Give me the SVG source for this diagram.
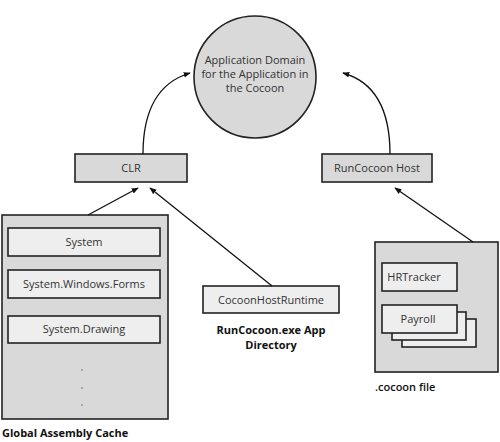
<svg xmlns="http://www.w3.org/2000/svg" width="500" height="442" viewBox="0 0 500 442">
<defs>
<marker id="ah" viewBox="0 0 10 10" refX="9" refY="5" markerWidth="7" markerHeight="7" orient="auto" markerUnits="userSpaceOnUse">
<path d="M0,1 L10,5 L0,9 z" fill="#111"/>
</marker>
<style>
.t{font-family:"Open Sans","Noto Sans",sans-serif;font-size:11px;fill:#333;text-anchor:middle}
.b{font-family:"Open Sans","Noto Sans",sans-serif;font-size:11px;font-weight:bold;fill:#111}
.box{fill:#d9d9d9;stroke:#222;stroke-width:1.6}
.in{fill:#eeeeee;stroke:#222;stroke-width:1.6}
.c{fill:none;stroke:#111;stroke-width:1.3;marker-end:url(#ah)}
</style>
</defs>
<rect width="500" height="442" fill="#fff"/>
<g id="appdomain">
<circle cx="255" cy="77" r="61" class="box"/>
<text class="t" x="255" y="64">Application Domain</text>
<text class="t" x="255" y="78">for the Application in</text>
<text class="t" x="255" y="92">the Cocoon</text>
</g>
<g id="clr">
<rect x="75" y="154" width="112" height="28" class="box"/>
<text class="t" x="131" y="172">CLR</text>
</g>
<g id="host">
<rect x="322" y="154" width="110" height="28" class="box"/>
<text class="t" x="377" y="172">RunCocoon Host</text>
</g>
<g id="gac">
<rect x="2" y="215" width="166" height="204" class="box"/>
<rect x="8" y="228" width="152" height="28" class="in"/>
<text class="t" x="84" y="246">System</text>
<rect x="8" y="270" width="152" height="28" class="in"/>
<text class="t" x="84" y="288">System.Windows.Forms</text>
<rect x="8" y="316" width="152" height="27" class="in"/>
<text class="t" x="84" y="333">System.Drawing</text>
<circle cx="82" cy="370" r="0.7" fill="#555"/>
<circle cx="82" cy="388" r="0.7" fill="#555"/>
<circle cx="82" cy="405" r="0.7" fill="#555"/>
<text class="b" x="2" y="437">Global Assembly Cache</text>
</g>
<g id="runtime">
<rect x="203" y="286" width="136" height="27" class="in"/>
<text class="t" x="271" y="304">CocoonHostRuntime</text>
<text class="b" x="271" y="334" text-anchor="middle">RunCocoon.exe App</text>
<text class="b" x="271" y="349" text-anchor="middle">Directory</text>
</g>
<g id="cocoonfile">
<rect x="375" y="242" width="123" height="130" class="box"/>
<rect x="382" y="263" width="75" height="28" class="in"/>
<text class="t" x="414" y="281">HRTracker</text>
<rect x="402" y="319" width="74" height="28" class="in"/>
<rect x="392" y="312" width="74" height="28" class="in"/>
<rect x="382" y="305" width="75" height="28" class="in"/>
<text class="t" x="418" y="323">Payroll</text>
<text class="b" x="375" y="391" style="font-weight:600">.cocoon file</text>
</g>
<g id="connectors">
<path class="c" d="M143,154 C143,108 160,82 190,73"/>
<path class="c" d="M390,154 C390,110 375,82 343,73"/>
<path class="c" d="M88,215 L138,188"/>
<path class="c" d="M272,286 L150,188"/>
<path class="c" d="M473,242 L395,188"/>
</g>
</svg>
